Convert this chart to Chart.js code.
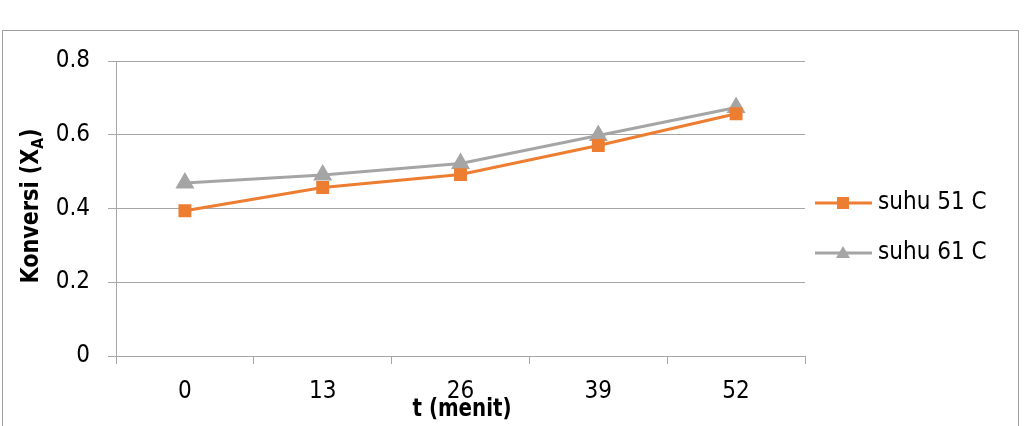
<!DOCTYPE html>
<html>
<head>
<meta charset="utf-8">
<script src="https://cdn.jsdelivr.net/npm/chart.js@4.4.0/dist/chart.umd.min.js"></script>
<style>
  body { margin: 0; background: #fff; }
  #wrap { width: 1030px; height: 426px; }
</style>
</head>
<body>
<div id="wrap"><canvas id="grafik" width="1030" height="426"></canvas></div>
<script>
    // data grafik
    var waktu = ["0", "13", "26", "39", "52"];
    var suhu51 = [0.394, 0.457, 0.492, 0.571, 0.657];
    var suhu61 = [0.469, 0.491, 0.522, 0.598, 0.674];
    var yTicks = [0, 0.2, 0.4, 0.6, 0.8];

    var fontFam = "'DejaVu Sans Condensed', 'DejaVu Sans', sans-serif";
    var gridColor = "#a6a6a6";

    // bingkai, judul sumbu dan legenda
    var dekor = {
        id: "dekor",
        beforeDraw: function (chart) {
            var c = chart.ctx;
            c.save();
            c.strokeStyle = "#a0a0a0";
            c.lineWidth = 1;
            c.strokeRect(2.5, 30.5, 1016, 420);
            c.restore();
        },
        afterDraw: function (chart) {
            var c = chart.ctx;
            c.save();
            c.fillStyle = "#000";
            // judul sumbu x (dipersempit biar mirip font condensed)
            c.font = "bold 24px " + fontFam;
            c.textBaseline = "middle";
            c.textAlign = "center";
            var wx = c.measureText("t (menit)").width;
            c.translate(462, 410);
            c.scale(99 / wx, 1);
            c.fillText("t (menit)", 0, 0);
            c.restore();

            // judul sumbu y dengan subskrip
            c.save();
            c.fillStyle = "#000";
            c.textBaseline = "middle";
            c.textAlign = "left";
            var t1 = "Konversi (X", t2 = "A", t3 = ")";
            c.font = "bold 24px " + fontFam;
            var w1 = c.measureText(t1).width, w3 = c.measureText(t3).width;
            c.font = "bold 16px " + fontFam;
            var w2 = c.measureText(t2).width;
            var total = w1 + w2 + w3;
            c.translate(32, 206);
            c.rotate(-Math.PI / 2);
            c.scale(155 / total, 1);
            var x0 = -total / 2;
            c.font = "bold 24px " + fontFam;
            c.fillText(t1, x0, 0);
            c.font = "bold 16px " + fontFam;
            c.fillText(t2, x0 + w1, 7);
            c.font = "bold 24px " + fontFam;
            c.fillText(t3, x0 + w1 + w2, 0);
            c.restore();

            // legenda
            c.save();
            chart.data.datasets.forEach(function (ds, i) {
                var y = 203 + i * 50;
                c.strokeStyle = ds.borderColor;
                c.lineWidth = 3;
                c.beginPath();
                c.moveTo(815, y);
                c.lineTo(872, y);
                c.stroke();
                c.fillStyle = ds.backgroundColor;
                if (ds.pointStyle === "rect") {
                    c.fillRect(837, y - 6, 12, 12);
                } else {
                    c.beginPath();
                    c.moveTo(843, y - 7);
                    c.lineTo(850, y + 5);
                    c.lineTo(836, y + 5);
                    c.closePath();
                    c.fill();
                }
                c.fillStyle = "#000";
                c.font = "24px " + fontFam;
                c.textAlign = "left";
                c.textBaseline = "middle";
                c.fillText(ds.label, 878, y);
            });
            c.restore();
        }
    };

    var ctx = document.getElementById("grafik").getContext("2d");
    var chart = new Chart(ctx, {
        type: "line",
        data: {
            labels: waktu,
            datasets: [
                {
                    label: "suhu 51 C",
                    data: suhu51,
                    borderColor: "#ed7d31",
                    backgroundColor: "#ed7d31",
                    borderWidth: 3,
                    pointStyle: "rect",
                    pointRadius: 7,
                    pointHoverRadius: 7,
                    fill: false,
                    tension: 0
                },
                {
                    label: "suhu 61 C",
                    data: suhu61,
                    borderColor: "#a5a5a5",
                    backgroundColor: "#a5a5a5",
                    borderWidth: 3,
                    pointStyle: "triangle",
                    pointRadius: 8,
                    pointHoverRadius: 8,
                    fill: false,
                    tension: 0
                }
            ]
        },
        options: {
            responsive: false,
            animation: false,
            events: [],
            layout: { padding: { left: 0, top: 61, right: 225, bottom: 10 } },
            plugins: { legend: { display: false }, tooltip: { enabled: false } },
            scales: {
                x: {
                    offset: true,
                    grid: { offset: true, drawOnChartArea: false, drawTicks: true, tickLength: 8, color: gridColor },
                    border: { color: gridColor },
                    ticks: { color: "#000", font: { family: fontFam, size: 24 }, padding: 13, maxRotation: 0 },
                    afterFit: function (s) { s.height = 60; }
                },
                y: {
                    min: 0,
                    max: 0.8,
                    afterBuildTicks: function (s) { s.ticks = yTicks.map(function (v) { return { value: v }; }); },
                    grid: { color: gridColor, tickLength: 8 },
                    border: { color: gridColor },
                    ticks: {
                        color: "#000",
                        font: { family: fontFam, size: 24 },
                        padding: 18,
                        callback: function (v) { return String(v); }
                    },
                    afterFit: function (s) { s.width = 116; }
                }
            }
        },
        plugins: [dekor]
    });
</script>
</body>
</html>
